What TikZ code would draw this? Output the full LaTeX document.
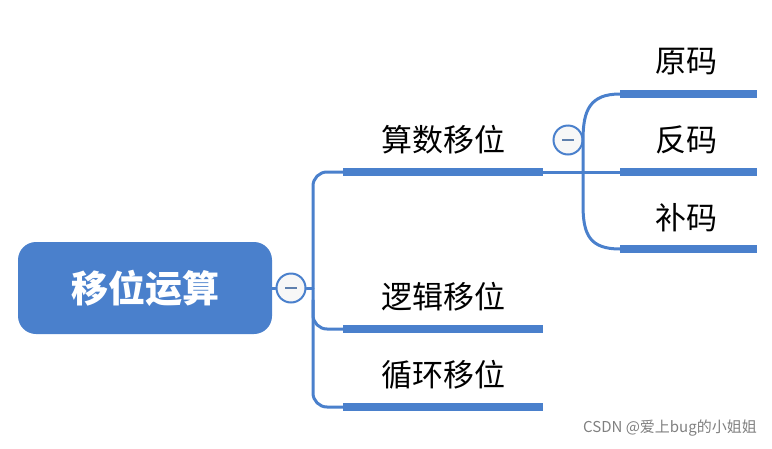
\documentclass[tikz,border=0pt]{standalone}
\usepackage{fontspec}
\setmainfont{Noto Sans CJK SC}
\begin{document}
\begin{tikzpicture}[x=1pt,y=-1pt,
  every node/.style={inner sep=0pt},
  thin line/.style={draw=mblue,line width=3pt,line cap=round},
  under/.style={draw=mblue,line width=8pt},
  lab/.style={font=\fontsize{31}{31}\selectfont},
  tog/.style={circle,draw=mblue,line width=2pt,fill=gray!6,minimum size=29pt}]
\definecolor{mblue}{HTML}{4A80CC}
\useasboundingbox (0,0) rectangle (772,448);
\node[fill=mblue,rounded corners=18pt,minimum width=254pt,minimum height=92pt,
  font=\fontsize{37}{37}\selectfont\bfseries,text=white] (root) at (145,288) {移位运算};
\node[tog] (c1) at (291,288) {};
\draw[draw=mblue!60!gray,line width=2pt] (285,288) -- (297,288);
\draw[thin line] (root.east) -- (c1.west);
\coordinate (t) at (313,288);
\draw[thin line] (c1.east) -- (t);
\coordinate (u1a) at (343,172); \coordinate (u1b) at (543,172);
\coordinate (u2a) at (343,329); \coordinate (u2b) at (543,329);
\coordinate (u3a) at (343,407); \coordinate (u3b) at (543,407);
\draw[thin line,rounded corners=14pt] (u1a) -- (313,172) -- (313,407) -- (u3a);
\draw[thin line,rounded corners=14pt] (313,300) -- (313,329) -- (u2a);
\draw[under] (u1a) -- (u1b);
\draw[under] (u2a) -- (u2b);
\draw[under] (u3a) -- (u3b);
\node[lab] (n1) at (443,140) {算数移位};
\node[lab] (n2) at (443,297) {逻辑移位};
\node[lab] (n3) at (443,375) {循环移位};
\node[tog] (c2) at (568,140) {};
\draw[draw=mblue!60!gray,line width=2pt] (562,140) -- (574,140);
\coordinate (r1a) at (620,94); \coordinate (r1b) at (757,94);
\coordinate (r2a) at (620,172); \coordinate (r2b) at (757,172);
\coordinate (r3a) at (620,249); \coordinate (r3b) at (757,249);
\draw[thin line] (u1b) -- (r2a);
\draw[thin line] (r1a) .. controls (590,94) and (583,110) .. (583,140) -- (583,205) .. controls (583,235) and (590,249) .. (r3a);
\draw[under] (r1a) -- (r1b);
\draw[under] (r2a) -- (r2b);
\draw[under] (r3a) -- (r3b);
\node[lab] (m1) at (686,62) {原码};
\node[lab] (m2) at (686,140) {反码};
\node[lab] (m3) at (686,218) {补码};
\node[font=\fontsize{15}{15}\selectfont,text=gray,anchor=east] (wm) at (757,428) {CSDN @爱上bug的小姐姐};
\end{tikzpicture}
\end{document}
